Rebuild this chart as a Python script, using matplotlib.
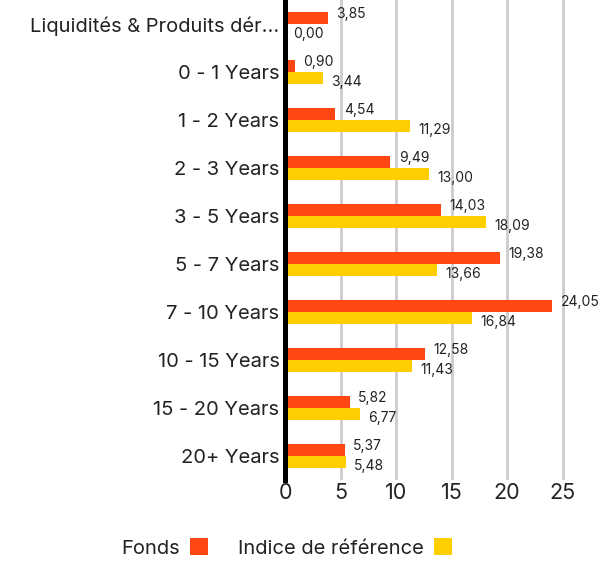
import matplotlib.pyplot as plt
import numpy as np

categories = ['Liquidités & Produits dér...', '0 - 1 Years', '1 - 2 Years', '2 - 3 Years',
              '3 - 5 Years', '5 - 7 Years', '7 - 10 Years', '10 - 15 Years',
              '15 - 20 Years', '20+ Years']
fonds = [3.85, 0.90, 4.54, 9.49, 14.03, 19.38, 24.05, 12.58, 5.82, 5.37]
indice = [0.00, 3.44, 11.29, 13.00, 18.09, 13.66, 16.84, 11.43, 6.77, 5.48]
xticks = [0, 5, 10, 15, 20, 25]

c_fonds = '#ff4713'
c_indice = '#ffce00'
txt = '#222222'

plt.rcParams['font.family'] = ['Inter', 'DejaVu Sans']

fig = plt.figure(figsize=(6.13, 5.63), dpi=100)
ax = fig.add_axes([285/613, 1 - 480/563, (596-285)/613, 480/563])

y = np.arange(len(categories))
h = 0.26
ax.barh(y - h/2, fonds, height=h, color=c_fonds, label='Fonds', zorder=3)
ax.barh(y + h/2, indice, height=h, color=c_indice, label='Indice de référence', zorder=3)

for i in range(len(categories)):
    ax.annotate(f'{fonds[i]:.2f}'.replace('.', ','), (fonds[i], y[i] - h/2),
                xytext=(6, 3), textcoords='offset points', va='center', ha='left',
                fontsize=10, color=txt)
    ax.annotate(f'{indice[i]:.2f}'.replace('.', ','), (indice[i], y[i] + h/2),
                xytext=(6, -3), textcoords='offset points', va='center', ha='left',
                fontsize=10, color=txt)

ax.set_xlim(0, 28)
ax.set_ylim(len(categories) - 0.5, -0.5)
ax.set_yticks(y)
ax.set_yticklabels(categories, fontsize=14.5, color=txt)
ax.set_xticks(xticks)
ax.set_xticklabels([str(t) for t in xticks], fontsize=15.5, color=txt)
ax.tick_params(axis='both', length=0)
ax.tick_params(axis='y', pad=4)
ax.tick_params(axis='x', pad=2)
ax.grid(axis='x', color='#cccccc', linewidth=2, zorder=0)
for s in ['top', 'right', 'bottom']:
    ax.spines[s].set_visible(False)
ax.spines['left'].set_linewidth(3.6)
ax.spines['left'].set_color('black')
ax.spines['left'].set_zorder(4)

fig.legend(loc='center', bbox_to_anchor=(0.468, 1 - 548/563), ncol=2,
           frameon=False, markerfirst=False, fontsize=14.5, handlelength=0.9,
           handleheight=0.9, columnspacing=1.5, handletextpad=0.5, labelcolor=txt)

fig.savefig('out.png', dpi=100)
